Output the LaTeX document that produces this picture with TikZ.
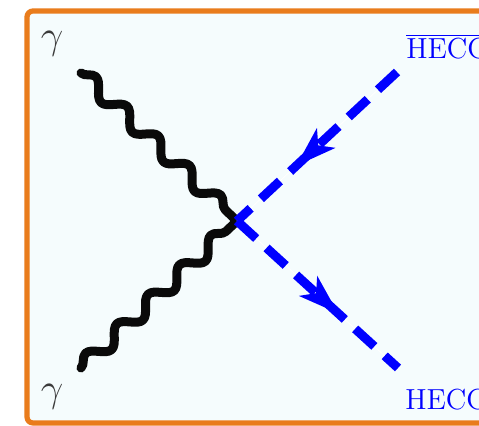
\RequirePackage{fix-cm}
\documentclass[tikz,border=0pt]{standalone}
\usetikzlibrary{decorations.pathmorphing,decorations.markings,arrows.meta}
\definecolor{frameorange}{HTML}{E97C1C}
\definecolor{bgcyan}{HTML}{F5FCFD}
\definecolor{fermblue}{HTML}{0000FF}
\definecolor{labelgray}{HTML}{3A3A3A}
\definecolor{photonblack}{HTML}{0A0A0A}
\begin{document}
\begin{tikzpicture}[x=0.5pt,y=-0.5pt,
  photon/.style={draw=photonblack, line width=4.5pt, line cap=round, line join=round, decorate,
    decoration={snake, segment length=21.5pt, amplitude=3.8pt}},
  fermion/.style={draw=fermblue, line width=4.5pt, dash pattern=on 13pt off 7pt,
    preaction={draw=white, solid},
    postaction={decorate},
    decoration={markings, mark=at position 0.63 with {\arrow[fermblue]{Stealth[length=20pt,width=13pt,inset=5pt]}}}},
  gammalabel/.style={text=labelgray, inner sep=0pt, font=\fontsize{20}{24}\selectfont},
  hecclabel/.style={text=fermblue, inner sep=0pt, anchor=base west, font=\fontsize{14.5}{17}\selectfont},
  frame/.style={draw=frameorange, fill=bgcyan, line width=2.6pt, rounded corners=3pt}
]
\useasboundingbox (0,0) rectangle (479,426);
\fill[white] (0,0) rectangle (479,426);
\draw[frame] (27,11) rectangle (560,423);
% vertices
\coordinate (v) at (237,221);
\coordinate (g1) at (81,73);
\coordinate (g2) at (81,368);
\coordinate (f1) at (397,72);
\coordinate (f2) at (398,368);
% lines
\draw[photon] (g1) -- (v);
\draw[photon] (g2) -- (v);
\draw[fermion] (f1) -- (v);
\draw[fermion] (v) -- (f2);
% labels
\node[gammalabel] (lg1) at (52,44) {$\gamma$};
\node[gammalabel] (lg2) at (52,397) {$\gamma$};
\node[hecclabel] (lf1) at (406,59) {$\overline{\mbox{HECC}}$};
\node[hecclabel] (lf2) at (405,410) {HECC};
\end{tikzpicture}
\end{document}
